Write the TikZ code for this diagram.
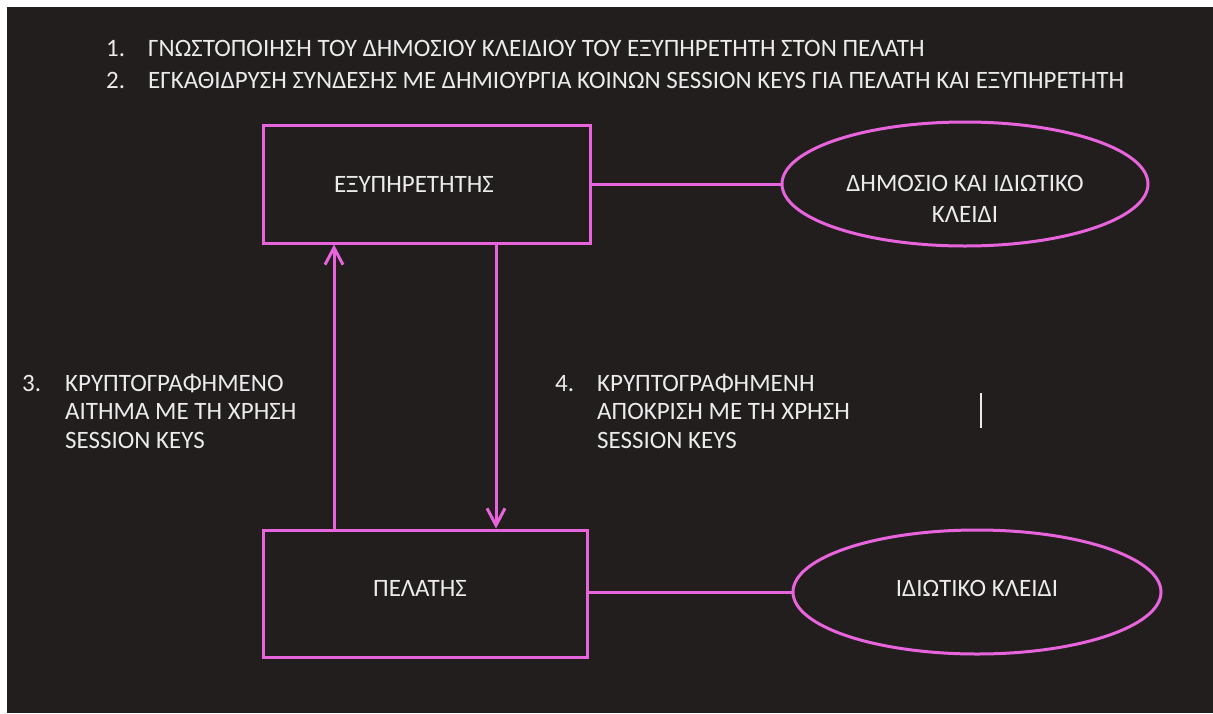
\documentclass[tikz,border=0pt]{standalone}
\usepackage{fontspec}
\setmainfont{Carlito}
\usetikzlibrary{arrows.meta,positioning,shapes.geometric}
\definecolor{slidebg}{HTML}{221E1E}
\definecolor{linkpink}{HTML}{E864DC}
\definecolor{slidetext}{HTML}{EBEBEB}
\tikzset{
  partybox/.style={
    draw=linkpink,
    line width=3pt,
    align=center,
    text=slidetext,
    inner sep=0pt
  },
  keyoval/.style={
    ellipse,
    draw=linkpink,
    line width=3pt,
    align=center,
    text=slidetext,
    inner sep=0pt
  },
  listtext/.style={
    anchor=base west,
    align=left,
    text=slidetext,
    inner sep=0pt
  },
  linkline/.style={
    draw=linkpink,
    line width=3pt
  },
  msgarrow/.style={
    -{Straight Barb[length=17pt,width=18pt,line width=3pt]},
    draw=linkpink,
    line width=3pt
  }
}

\begin{document}
\begin{tikzpicture}[x=1pt,y=-1pt,font=\fontsize{25}{28.5}\selectfont]
  \useasboundingbox (0,0) rectangle (1213,713);
  \fill[white] (0,0) rectangle (1213,713);
  \fill[slidebg] (7,7) rectangle (1213,713);

  % numbered steps at the top
  \node[listtext] (num1) at (106,56) {1.};
  \node[listtext] (step1) at (148,56) {ΓΝΩΣΤΟΠΟΙΗΣΗ ΤΟΥ ΔΗΜΟΣΙΟΥ ΚΛΕΙΔΙΟΥ ΤΟΥ ΕΞΥΠΗΡΕΤΗΤΗ ΣΤΟΝ ΠΕΛΑΤΗ};
  \node[listtext] (num2) at (106,88) {2.};
  \node[listtext] (step2) at (148,88) {ΕΓΚΑΘΙΔΡΥΣΗ ΣΥΝΔΕΣΗΣ ΜΕ ΔΗΜΙΟΥΡΓΙΑ ΚΟΙΝΩΝ SESSION KEYS ΓΙΑ ΠΕΛΑΤΗ ΚΑΙ ΕΞΥΠΗΡΕΤΗΤΗ};

  % parties and keys
  \node[partybox, minimum width=327pt, minimum height=118pt] (server) at (426.5,184) {};
  \node[text=slidetext, inner sep=0pt] (servername) at (414,184) {ΕΞΥΠΗΡΕΤΗΤΗΣ};
  \node[partybox, minimum width=324pt, minimum height=127pt] (client) at (425,593.5) {};
  \node[text=slidetext, inner sep=0pt] (clientname) at (420,588) {ΠΕΛΑΤΗΣ};
  \node[keyoval, minimum width=366pt, minimum height=124pt] (pubkey) at (965,184) {};
  \node[text=slidetext, align=center, inner sep=0pt, font=\fontsize{25}{31}\selectfont] (pubkeyname) at (965,199) {ΔΗΜΟΣΙΟ ΚΑΙ ΙΔΙΩΤΙΚΟ\\ΚΛΕΙΔΙ};
  \node[keyoval, minimum width=368pt, minimum height=124pt] (privkey) at (977,592) {};
  \node[text=slidetext, inner sep=0pt] (privkeyname) at (977,588) {ΙΔΙΩΤΙΚΟ ΚΛΕΙΔΙ};

  \draw[linkline] (server.east) -- (pubkey.west);
  \draw[linkline] (client.east |- privkey.west) -- (privkey.west);

  % request and response
  \draw[msgarrow] ([xshift=-91pt]client.north) -- ([xshift=-92.5pt]server.south);
  \draw[msgarrow] ([xshift=69.5pt]server.south) -- ([xshift=71pt]client.north);

  \node[listtext] (num3) at (22,448) {3.\\\\};
  \node[listtext] (step3) at (65,448) {ΚΡΥΠΤΟΓΡΑΦΗΜΕΝΟ\\ΑΙΤΗΜΑ ΜΕ ΤΗ ΧΡΗΣΗ\\SESSION KEYS};
  \node[listtext] (num4) at (555,448) {4.\\\\};
  \node[listtext] (step4) at (597,448) {ΚΡΥΠΤΟΓΡΑΦΗΜΕΝΗ\\ΑΠΟΚΡΙΣΗ ΜΕ ΤΗ ΧΡΗΣΗ\\SESSION KEYS};

  \draw[slidetext, line width=1.2pt] (981,393) -- (981,428);
\end{tikzpicture}
\end{document}
